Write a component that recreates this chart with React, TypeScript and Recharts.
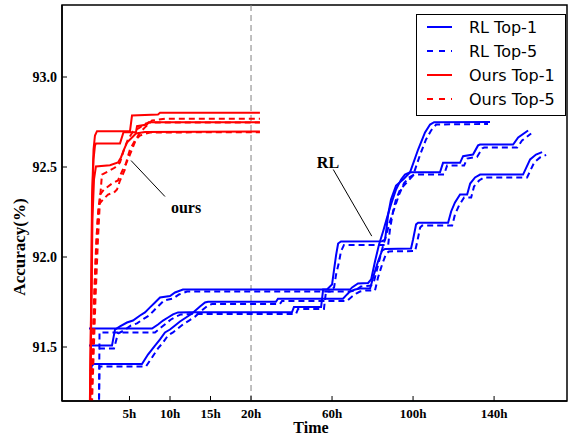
import {
  LineChart,
  Line,
  XAxis,
  YAxis,
  ReferenceLine,
  ReferenceDot,
  ReferenceArea,
} from "recharts";

const BLUE = "#0000ff";
const RED = "#ff0000";
const SERIF = "'Liberation Serif', 'Times New Roman', serif";
const SANS = "'DejaVu Sans', sans-serif";

const W = 568;
const H = 437;
const X_AXIS_H = 36;
const Y_AXIS_W = 62;

// time axis: 0-20h drawn at full scale, after 20h compressed 4x
const toAxis = (h: number) => (h <= 20 ? h : 20 + (h - 20) / 4);
const X_DOMAIN: [number, number] = [-3.33, 59];
const Y_DOMAIN: [number, number] = [91.2, 93.4];

const TICK_HOURS = [5, 10, 15, 20, 60, 100, 140];
const Y_TICKS = [91.5, 92.0, 92.5, 93.0];

// [hours, accuracy %]
const rlTop1Run1: [number, number][] = [
  [0, 91.603], [7.78, 91.603], [8.52, 91.625], [9.14, 91.647], [9.75, 91.664],
  [10.37, 91.681], [10.99, 91.692], [12.47, 91.693], [40.2, 91.693], [41.2, 91.722],
  [54.6, 91.722], [55.6, 91.819], [68.9, 91.819], [69.9, 91.831], [72.8, 91.853],
  [77.8, 91.856], [79.3, 91.875], [81.2, 91.975], [83.2, 92.07], [85.2, 92.142],
  [87.2, 92.22], [89.1, 92.292], [91.6, 92.375], [94.1, 92.431], [96.0, 92.458],
  [98.5, 92.471], [113.3, 92.471], [114.8, 92.523], [123.2, 92.523], [124.7, 92.56],
  [129.6, 92.569], [132.1, 92.62], [133.1, 92.625], [149.4, 92.625], [151.9, 92.664],
  [156.8, 92.703],
];
const rlTop1Run2: [number, number][] = [
  [0, 91.508], [2.84, 91.508], [3.21, 91.597], [3.83, 91.614], [4.69, 91.636],
  [5.43, 91.647], [6.3, 91.675], [6.91, 91.692], [7.53, 91.72], [8.15, 91.747],
  [8.77, 91.775], [10.0, 91.783], [10.62, 91.803], [11.6, 91.819], [57.5, 91.819],
  [60.0, 91.847], [61.0, 91.93], [62.0, 92.01], [63.0, 92.075], [64.4, 92.086],
  [84.7, 92.088], [86.2, 92.097], [87.7, 92.236], [89.1, 92.32], [91.6, 92.397],
  [95.1, 92.43], [98.5, 92.47], [102.5, 92.597], [105.9, 92.692], [108.4, 92.736],
  [110.4, 92.749], [138.0, 92.75],
];
const rlTop1Run3: [number, number][] = [
  [0.19, 91.364], [0.37, 91.397], [0.62, 91.406], [6.54, 91.406], [7.28, 91.458],
  [8.15, 91.508], [8.77, 91.542], [9.38, 91.581], [10.0, 91.597], [10.62, 91.62],
  [11.23, 91.642], [11.98, 91.664], [12.72, 91.686], [13.7, 91.725], [14.32, 91.747],
  [14.69, 91.751], [32.3, 91.751], [33.3, 91.768], [65.4, 91.768], [67.4, 91.792],
  [68.9, 91.809], [71.4, 91.819], [73.8, 91.825], [78.8, 91.825], [80.7, 91.903],
  [82.7, 91.975], [84.7, 92.036], [86.2, 92.045], [99.0, 92.047], [100.0, 92.097],
  [101.5, 92.181], [102.5, 92.19], [117.3, 92.19], [118.8, 92.253], [120.7, 92.303],
  [123.2, 92.347], [126.7, 92.347], [128.2, 92.408], [130.6, 92.442], [133.1, 92.458],
  [154.3, 92.458], [157.8, 92.542], [160.7, 92.569], [163.7, 92.583],
];

const rlTop5Run1: [number, number][] = [
  [1.23, 91.153], [1.3, 91.581], [8.15, 91.581], [8.89, 91.608], [9.51, 91.631],
  [10.12, 91.653], [10.74, 91.669], [11.36, 91.681], [13.09, 91.683], [42.2, 91.683],
  [43.2, 91.711], [56.0, 91.711], [57.0, 91.808], [68.9, 91.808], [71.4, 91.814],
  [74.3, 91.836], [79.3, 91.842], [80.7, 91.864], [82.7, 91.953], [84.7, 92.042],
  [86.7, 92.12], [88.6, 92.197], [90.6, 92.264], [93.1, 92.347], [95.5, 92.409],
  [98.0, 92.442], [100.5, 92.458], [115.3, 92.458], [116.8, 92.508], [125.2, 92.508],
  [126.7, 92.547], [131.6, 92.556], [134.1, 92.603], [135.1, 92.608], [151.4, 92.608],
  [153.8, 92.647], [158.3, 92.686],
];
const rlTop5Run2: [number, number][] = [
  [1.23, 91.492], [3.09, 91.492], [3.58, 91.575], [4.32, 91.592], [5.19, 91.62],
  [5.93, 91.631], [6.79, 91.658], [7.41, 91.675], [8.02, 91.703], [8.64, 91.731],
  [9.26, 91.758], [10.37, 91.769], [11.11, 91.792], [12.1, 91.808], [59.0, 91.808],
  [61.0, 91.831], [62.0, 91.903], [63.5, 91.975], [64.4, 92.031], [65.9, 92.067],
  [87.7, 92.067], [88.6, 92.153], [90.1, 92.253], [91.6, 92.32], [93.6, 92.375],
  [96.5, 92.409], [100.0, 92.453], [103.5, 92.569], [106.4, 92.653], [108.9, 92.703],
  [111.4, 92.736], [137.0, 92.739],
];
const rlTop5Run3: [number, number][] = [
  [1.23, 91.153], [1.3, 91.392], [7.04, 91.392], [7.78, 91.442], [8.52, 91.492],
  [9.14, 91.525], [9.75, 91.564], [10.37, 91.581], [10.99, 91.603], [11.6, 91.625],
  [12.35, 91.647], [13.09, 91.669], [14.07, 91.708], [14.69, 91.731], [15.19, 91.739],
  [34.3, 91.739], [35.3, 91.756], [67.4, 91.756], [69.9, 91.781], [71.9, 91.797],
  [73.8, 91.808], [76.8, 91.814], [81.2, 91.814], [82.7, 91.886], [84.7, 91.958],
  [86.7, 92.019], [88.1, 92.031], [101.0, 92.033], [102.0, 92.081], [103.5, 92.164],
  [104.5, 92.175], [119.3, 92.175], [120.7, 92.236], [122.7, 92.286], [125.2, 92.331],
  [128.7, 92.331], [130.1, 92.392], [132.6, 92.425], [135.1, 92.442], [156.3, 92.442],
  [159.8, 92.525], [162.7, 92.553], [165.7, 92.567],
];

const oursTop1Run1: [number, number][] = [
  [0.1, 91.153], [0.27, 91.764], [0.37, 92.319], [0.56, 92.597], [0.74, 92.675],
  [0.99, 92.699], [5.06, 92.699], [5.31, 92.786], [8.52, 92.792], [8.77, 92.801],
  [24.4, 92.801],
];
const oursTop1Run2: [number, number][] = [
  [0.12, 91.153], [0.28, 91.764], [0.4, 92.319], [0.56, 92.542], [0.74, 92.619],
  [0.86, 92.631], [3.83, 92.631], [4.26, 92.693], [5.8, 92.693], [5.93, 92.727],
  [7.16, 92.736], [7.35, 92.749], [24.4, 92.749],
];
const oursTop1Run3: [number, number][] = [
  [0.15, 91.153], [0.31, 91.764], [0.43, 92.208], [0.62, 92.431], [0.86, 92.503],
  [2.59, 92.51], [3.58, 92.525], [3.95, 92.553], [4.32, 92.597], [4.69, 92.636],
  [5.19, 92.658], [5.8, 92.686], [6.91, 92.694], [24.4, 92.697],
];

const oursTop5Run1: [number, number][] = [
  [0.25, 91.181], [0.62, 91.764], [0.86, 92.042], [1.11, 92.236], [1.36, 92.347],
  [1.85, 92.375], [2.84, 92.408], [3.58, 92.425], [4.07, 92.475], [4.81, 92.542],
  [5.31, 92.597], [5.8, 92.653], [6.3, 92.692], [6.91, 92.72], [7.78, 92.758],
  [9.38, 92.768], [24.4, 92.768],
];
const oursTop5Run2: [number, number][] = [
  [0.31, 91.181], [0.74, 91.875], [0.99, 92.153], [1.23, 92.292], [1.73, 92.319],
  [2.35, 92.347], [3.09, 92.358], [3.46, 92.375], [3.83, 92.425], [4.44, 92.486],
  [4.69, 92.542], [5.06, 92.597], [5.68, 92.647], [6.3, 92.675], [7.53, 92.692],
  [24.4, 92.693],
];
const oursTop5Run3: [number, number][] = [
  [0.37, 91.181], [0.8, 91.764], [1.11, 92.097], [1.36, 92.319], [1.6, 92.458],
  [2.35, 92.475], [3.21, 92.497], [3.83, 92.525], [4.32, 92.597], [4.81, 92.653],
  [5.43, 92.697], [6.3, 92.72], [7.04, 92.742], [7.53, 92.747], [24.4, 92.747],
];

const SERIES = [
  { id: "rl1a", data: rlTop1Run1, color: BLUE, dashed: false },
  { id: "rl1b", data: rlTop1Run2, color: BLUE, dashed: false },
  { id: "rl1c", data: rlTop1Run3, color: BLUE, dashed: false },
  { id: "rl5a", data: rlTop5Run1, color: BLUE, dashed: true },
  { id: "rl5b", data: rlTop5Run2, color: BLUE, dashed: true },
  { id: "rl5c", data: rlTop5Run3, color: BLUE, dashed: true },
  { id: "o1a", data: oursTop1Run1, color: RED, dashed: false },
  { id: "o1b", data: oursTop1Run2, color: RED, dashed: false },
  { id: "o1c", data: oursTop1Run3, color: RED, dashed: false },
  { id: "o5a", data: oursTop5Run1, color: RED, dashed: true },
  { id: "o5b", data: oursTop5Run2, color: RED, dashed: true },
  { id: "o5c", data: oursTop5Run3, color: RED, dashed: true },
];

const LEGEND = [
  { name: "RL Top-1", color: BLUE, dashed: false },
  { name: "RL Top-5", color: BLUE, dashed: true },
  { name: "Ours Top-1", color: RED, dashed: false },
  { name: "Ours Top-5", color: RED, dashed: true },
];

// annotation pointers: [hours, accuracy]
const oursPointer: [number, number][] = [[5.19, 92.536], [9.38, 92.336]];
const oursLabel: [number, number] = [11.98, 92.275];
const rlPointer: [number, number][] = [[60.6, 92.486], [79.6, 92.116]];
const rlLabel: [number, number] = [58.0, 92.525];

const toPoints = (rows: [number, number][]) =>
  rows.map(([h, acc]) => ({ x: toAxis(h), acc }));

const BottomTick = ({ x, y, payload }: any) => {
  const idx = TICK_HOURS.findIndex((h) => Math.abs(toAxis(h) - payload.value) < 1e-6);
  return (
    <g>
      <line x1={x} x2={x} y1={y} y2={y - 5} stroke="#000" strokeWidth={1} />
      <text
        x={x}
        y={y + 17}
        textAnchor="middle"
        fontFamily={SERIF}
        fontWeight="bold"
        fontSize={13}
        fill="#000"
      >
        {idx >= 0 ? `${TICK_HOURS[idx]}h` : ""}
      </text>
    </g>
  );
};

const TopTick = ({ x, y }: any) => (
  <line x1={x} x2={x} y1={y} y2={y + 5} stroke="#000" strokeWidth={1} />
);

const LeftTick = ({ x, y, payload }: any) => (
  <g>
    <line x1={x} x2={x + 5} y1={y} y2={y} stroke="#000" strokeWidth={1} />
    <text
      x={x - 5}
      y={y + 5}
      textAnchor="end"
      fontFamily={SERIF}
      fontWeight="bold"
      fontSize={14}
      fill="#000"
    >
      {Number(payload.value).toFixed(1)}
    </text>
  </g>
);

const YTitle = () => (
  <text
    x={21}
    y={247}
    transform="rotate(-90 21 247)"
    textAnchor="middle"
    dominantBaseline="middle"
    fontFamily={SERIF}
    fontWeight="bold"
    fontSize={17}
    fill="#000"
  >
    Accuracy(%)
  </text>
);

const XTitle = () => (
  <text
    x={311}
    y={433}
    textAnchor="middle"
    fontFamily={SERIF}
    fontWeight="bold"
    fontSize={16}
    fill="#000"
  >
    Time
  </text>
);

const annotationLabel = (value: string) => ({
  value,
  position: "center" as const,
  fontFamily: SERIF,
  fontWeight: "bold",
  fontSize: 16,
  fill: "#000",
});

export default function App() {
  const axisLine = { stroke: "#000", strokeWidth: 1.5 };
  return (
    <div style={{ position: "absolute", left: 0, top: 0, width: W, height: H, background: "#fff" }}>
      <LineChart width={W} height={H} margin={{ top: 5, right: 1, bottom: 0, left: 0 }}>
        <XAxis
          dataKey="x"
          type="number"
          domain={X_DOMAIN}
          ticks={TICK_HOURS.map(toAxis)}
          allowDataOverflow
          height={X_AXIS_H}
          axisLine={axisLine}
          tickLine={false}
          tickSize={0}
          tickMargin={0}
          tick={<BottomTick />}
          interval={0}
          label={{ content: () => <XTitle /> }}
        />
        <XAxis
          xAxisId="top"
          orientation="top"
          dataKey="x"
          type="number"
          domain={X_DOMAIN}
          ticks={TICK_HOURS.map(toAxis)}
          allowDataOverflow
          height={0}
          axisLine={axisLine}
          tickLine={false}
          tickSize={0}
          tickMargin={0}
          tick={<TopTick />}
          interval={0}
        />
        <YAxis
          type="number"
          domain={Y_DOMAIN}
          ticks={Y_TICKS}
          allowDataOverflow
          width={Y_AXIS_W}
          axisLine={axisLine}
          tickLine={false}
          tickSize={0}
          tickMargin={0}
          tick={<LeftTick />}
          interval={0}
          label={{ content: () => <YTitle /> }}
        />
        <ReferenceArea
          x1={X_DOMAIN[0]}
          x2={X_DOMAIN[1]}
          y1={Y_DOMAIN[0]}
          y2={Y_DOMAIN[1]}
          fill="none"
          fillOpacity={0}
          stroke="#000"
          strokeWidth={1.5}
          ifOverflow="visible"
        />
        <ReferenceLine x={toAxis(20)} stroke="#808080" strokeWidth={1} strokeDasharray="6 4" />
        {SERIES.map((s) => (
          <Line
            key={s.id}
            data={toPoints(s.data)}
            dataKey="acc"
            type="linear"
            stroke={s.color}
            strokeWidth={2}
            strokeDasharray={s.dashed ? "6 4" : undefined}
            dot={false}
            activeDot={false}
            isAnimationActive={false}
          />
        ))}
        <ReferenceLine
          segment={oursPointer.map(([h, acc]) => ({ x: toAxis(h), y: acc }))}
          stroke="#000"
          strokeWidth={1}
          ifOverflow="visible"
        />
        <ReferenceLine
          segment={rlPointer.map(([h, acc]) => ({ x: toAxis(h), y: acc }))}
          stroke="#000"
          strokeWidth={1}
          ifOverflow="visible"
        />
        <ReferenceDot
          x={toAxis(oursLabel[0])}
          y={oursLabel[1]}
          r={0}
          fill="none"
          stroke="none"
          label={annotationLabel("ours")}
        />
        <ReferenceDot
          x={toAxis(rlLabel[0])}
          y={rlLabel[1]}
          r={0}
          fill="none"
          stroke="none"
          label={annotationLabel("RL")}
        />
      </LineChart>
      <div
        style={{
          position: "absolute",
          left: 416,
          top: 14,
          width: 148,
          height: 100,
          border: "1px solid #000",
          background: "#fff",
        }}
      >
        <svg width={148} height={100}>
          {LEGEND.map((item, i) => {
            const cy = 12 + i * 24;
            return (
              <g key={item.name}>
                <line
                  x1={10}
                  x2={35}
                  y1={cy}
                  y2={cy}
                  stroke={item.color}
                  strokeWidth={2}
                  strokeDasharray={item.dashed ? "6 6" : undefined}
                />
                <text x={52} y={cy + 6} fontFamily={SANS} fontSize={16} fill="#000">
                  {item.name}
                </text>
              </g>
            );
          })}
        </svg>
      </div>
    </div>
  );
}
